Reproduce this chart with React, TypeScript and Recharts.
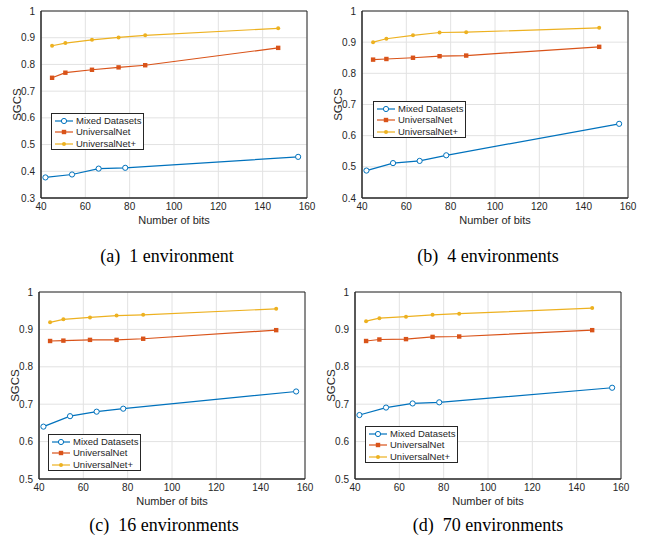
import { LineChart, Line, XAxis, YAxis, CartesianGrid, ReferenceArea, Legend } from "recharts";

// x positions (number of bits)
const bitsMixed = [42, 54, 66, 78, 156];
const bitsNet = [45, 51, 63, 75, 87, 147];
const xTicks = [40, 60, 80, 100, 120, 140, 160];

// (a) 1 environment
const mixedA = [0.377, 0.388, 0.41, 0.413, 0.454];
const netA = [0.75, 0.769, 0.78, 0.789, 0.797, 0.862];
const netPlusA = [0.87, 0.88, 0.892, 0.901, 0.909, 0.935];

// (b) 4 environments
const mixedB = [0.488, 0.512, 0.519, 0.537, 0.638];
const netB = [0.844, 0.846, 0.85, 0.855, 0.857, 0.885];
const netPlusB = [0.9, 0.911, 0.922, 0.931, 0.932, 0.946];

// (c) 16 environments
const mixedC = [0.64, 0.668, 0.68, 0.688, 0.734];
const netC = [0.869, 0.87, 0.872, 0.872, 0.875, 0.898];
const netPlusC = [0.919, 0.927, 0.932, 0.937, 0.939, 0.955];

// (d) 70 environments
const mixedD = [0.671, 0.691, 0.702, 0.705, 0.744];
const netD = [0.869, 0.873, 0.874, 0.88, 0.881, 0.898];
const netPlusD = [0.922, 0.93, 0.934, 0.939, 0.942, 0.957];

const yTicksA = [0.3, 0.4, 0.5, 0.6, 0.7, 0.8, 0.9, 1];
const yTicksB = [0.4, 0.5, 0.6, 0.7, 0.8, 0.9, 1];
const yTicksCD = [0.5, 0.6, 0.7, 0.8, 0.9, 1];

const seriesNames = ["Mixed Datasets", "UniversalNet", "UniversalNet+"];
const captions = ["(a)  1 environment", "(b)  4 environments", "(c)  16 environments", "(d)  70 environments"];

const BLUE = "#0072BD";
const RED = "#D95319";
const YELLOW = "#EDB120";
const AXIS = "#262626";
const FONT = "'Liberation Sans', Arial, sans-serif";

const pts = (xs: number[], ys: number[]) => xs.map((x, i) => ({ x, y: ys[i] }));

const panels = [
  { left: 0, top: 0, legend: { left: 51, top: 113 }, yTicks: yTicksA, mixed: mixedA, net: netA, plus: netPlusA },
  { left: 321, top: 0, legend: { left: 52, top: 101 }, yTicks: yTicksB, mixed: mixedB, net: netB, plus: netPlusB },
  { left: -2, top: 281, legend: { left: 50, top: 153 }, yTicks: yTicksCD, mixed: mixedC, net: netC, plus: netPlusC },
  { left: 314, top: 281, legend: { left: 51, top: 145 }, yTicks: yTicksCD, mixed: mixedD, net: netD, plus: netPlusD },
];

const CircleDot = (props: any) => {
  const { cx, cy, index } = props;
  return <circle key={index} cx={cx} cy={cy} r={2.6} fill="#fff" stroke={BLUE} strokeWidth={1} />;
};
const SquareDot = (props: any) => {
  const { cx, cy, index } = props;
  return <rect key={index} x={cx - 2.2} y={cy - 2.2} width={4.4} height={4.4} fill={RED} />;
};
const StarDot = (props: any) => {
  const { cx, cy, index } = props;
  return <circle key={index} cx={cx} cy={cy} r={2} fill={YELLOW} />;
};

const renderYLabel = (props: any) => {
  const { viewBox } = props;
  const x = viewBox.x + viewBox.width - 24;
  const y = viewBox.y + viewBox.height / 2;
  return (
    <text x={x} y={y} transform={`rotate(-90 ${x} ${y})`} textAnchor="middle" dominantBaseline="central"
      fontSize={11.5} fill={AXIS} fontFamily={FONT}>
      SGCS
    </text>
  );
};

const legendMarks = [
  { color: BLUE, mark: (x: number, y: number) => <circle cx={x} cy={y} r={2.6} fill="#fff" stroke={BLUE} strokeWidth={1} /> },
  { color: RED, mark: (x: number, y: number) => <rect x={x - 2.2} y={y - 2.2} width={4.4} height={4.4} fill={RED} /> },
  { color: YELLOW, mark: (x: number, y: number) => <circle cx={x} cy={y} r={2} fill={YELLOW} /> },
];

const renderLegend = () => (
  <div style={{ background: "#fff", border: `0.8px solid ${AXIS}`, width: 93, height: 37, boxSizing: "border-box", padding: "1px 0 0 2px" }}>
    {seriesNames.map((name, i) => (
      <div key={name} style={{ display: "flex", alignItems: "center", height: 11.5 }}>
        <svg width={20} height={10} style={{ marginRight: 2 }}>
          <line x1={1} y1={5} x2={19} y2={5} stroke={legendMarks[i].color} strokeWidth={1.2} />
          {legendMarks[i].mark(10, 5)}
        </svg>
        <span style={{ fontFamily: FONT, fontSize: 9.5, color: AXIS, lineHeight: "10px" }}>{name}</span>
      </div>
    ))}
  </div>
);

function Panel({ p }: { p: (typeof panels)[number] }) {
  const yLo = p.yTicks[0];
  return (
    <div style={{ position: "absolute", left: p.left, top: p.top }}>
      <LineChart width={320} height={233} margin={{ top: 11, right: 13, bottom: 0, left: 0 }}>
        <CartesianGrid stroke="#e2e2e2" strokeWidth={1} />
        <XAxis type="number" dataKey="x" domain={[40, 160]} ticks={xTicks} allowDataOverflow
          height={35} tickSize={0} tickMargin={5} axisLine={{ stroke: AXIS }}
          tick={{ fontSize: 10, fill: AXIS, fontFamily: FONT }}
          label={{ value: "Number of bits", position: "insideBottom", offset: 9, fontSize: 11, fill: AXIS, fontFamily: FONT }} />
        <YAxis type="number" dataKey="y" domain={[yLo, 1]} ticks={p.yTicks} allowDataOverflow
          width={41} tickSize={0} tickMargin={6} axisLine={{ stroke: AXIS }}
          tick={{ fontSize: 10, fill: AXIS, fontFamily: FONT }}
          tickFormatter={(v: number) => String(Math.round(v * 10) / 10)}
          label={{ content: renderYLabel }} />
        <ReferenceArea x1={40} x2={160} y1={yLo} y2={1} fill="none" stroke={AXIS} strokeWidth={1} />
        <Line data={pts(bitsMixed, p.mixed)} dataKey="y" name={seriesNames[0]} stroke={BLUE} strokeWidth={1.2}
          dot={CircleDot} activeDot={false} isAnimationActive={false} />
        <Line data={pts(bitsNet, p.net)} dataKey="y" name={seriesNames[1]} stroke={RED} strokeWidth={1.2}
          dot={SquareDot} activeDot={false} isAnimationActive={false} />
        <Line data={pts(bitsNet, p.plus)} dataKey="y" name={seriesNames[2]} stroke={YELLOW} strokeWidth={1.2}
          dot={StarDot} activeDot={false} isAnimationActive={false} />
        <Legend content={renderLegend} layout="vertical" align="center" verticalAlign="middle"
          wrapperStyle={{ left: p.legend.left, top: p.legend.top, width: "auto", bottom: "auto", right: "auto" }} />
      </LineChart>
    </div>
  );
}

const captionStyle = (cx: number, cy: number): React.CSSProperties => ({
  position: "absolute",
  left: cx - 150,
  top: cy - 11,
  width: 300,
  textAlign: "center",
  fontFamily: "'Liberation Serif', 'Times New Roman', serif",
  fontSize: 18,
  lineHeight: "22px",
  color: "#000",
  whiteSpace: "pre",
});

export default function App() {
  return (
    <div style={{ position: "absolute", left: 0, top: 0, width: 647, height: 544, background: "#fff", overflow: "hidden" }}>
      {panels.map((p, i) => (
        <Panel key={i} p={p} />
      ))}
      <div style={captionStyle(167, 256)}>{captions[0]}</div>
      <div style={captionStyle(488, 256)}>{captions[1]}</div>
      <div style={captionStyle(164, 525)}>{captions[2]}</div>
      <div style={captionStyle(488, 525)}>{captions[3]}</div>
    </div>
  );
}
